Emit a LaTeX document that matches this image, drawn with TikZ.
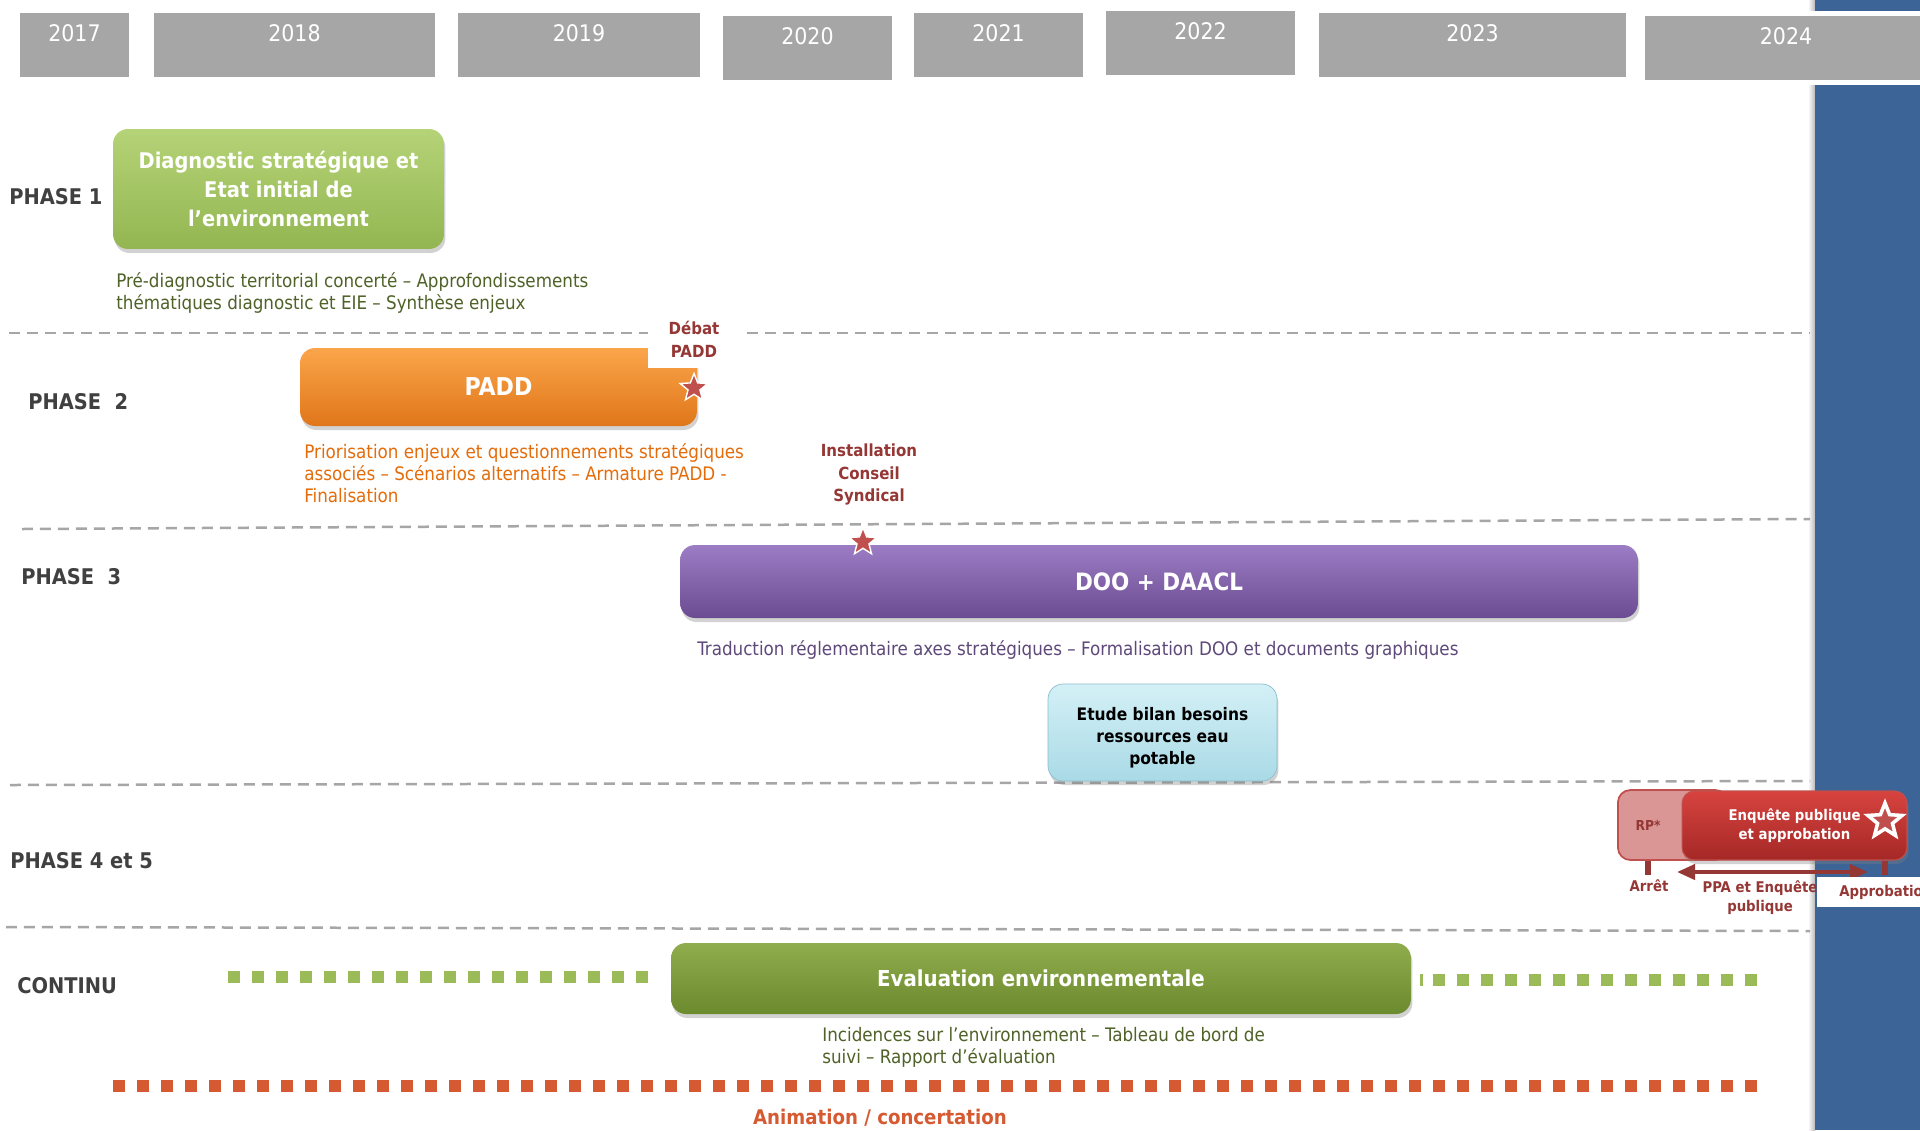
\documentclass[tikz,border=0pt]{standalone}
\usepackage{fontspec}
\setmainfont{DejaVu Sans Condensed}
\usetikzlibrary{shapes.geometric,shadows,arrows.meta}

\definecolor{yeargray}{HTML}{A6A6A6}
\definecolor{bluebar}{HTML}{3C6497}
\definecolor{phasegray}{HTML}{404040}
\definecolor{darkred}{HTML}{953735}
\definecolor{starred}{HTML}{C0504D}
\definecolor{diagtop}{HTML}{B5D377}
\definecolor{diagbot}{HTML}{93B651}
\definecolor{paddtop}{HTML}{FBA54A}
\definecolor{paddbot}{HTML}{E0761A}
\definecolor{dootop}{HTML}{9C7CC4}
\definecolor{doobot}{HTML}{6B4C92}
\definecolor{etudetop}{HTML}{D4F0F6}
\definecolor{etudebot}{HTML}{A9DAE6}
\definecolor{etudeline}{HTML}{8CBFCC}
\definecolor{evaltop}{HTML}{8FAD4C}
\definecolor{evalbot}{HTML}{6C8A2E}
\definecolor{enqtop}{HTML}{D7433F}
\definecolor{enqbot}{HTML}{A52826}
\definecolor{rpfill}{HTML}{D99694}
\definecolor{diagtext}{HTML}{4F6228}
\definecolor{paddtext}{HTML}{E46C0A}
\definecolor{dootext}{HTML}{5F497A}
\definecolor{greendot}{HTML}{9BBB59}
\definecolor{reddot}{HTML}{D55A31}

\tikzset{
  yearbox/.style={fill=yeargray, draw=white, line width=0.1cm, text=white,
    anchor=north, inner xsep=0pt, inner ysep=0pt, text height=0.62cm, text depth=0.76cm,
    font=\fontsize{13}{15}\selectfont,
    drop shadow={shadow xshift=0cm, shadow yshift=-0.06cm, opacity=0.35}},
  phase/.style={anchor=west, inner sep=0pt, text=phasegray,
    font=\fontsize{12.3}{14}\selectfont\bfseries},
  task/.style={rounded corners=0.3cm, align=center, text=white,
    font=\fontsize{12.3}{16.5}\selectfont\bfseries,
    drop shadow={shadow xshift=0.03cm, shadow yshift=-0.08cm, opacity=0.35}},
  desc/.style={anchor=west, align=left, inner sep=0pt,
    font=\fontsize{10.6}{12.5}\selectfont},
  milestone/.style={align=center, inner sep=0pt, text=darkred,
    font=\fontsize{9.5}{13}\selectfont\bfseries},
  jalon/.style={star, star points=5, star point ratio=2.3, minimum size=0.58cm,
    inner sep=0pt, fill=starred, draw=white, line width=0.8pt},
  sepline/.style={draw=yeargray, line width=0.05cm, dash pattern=on 0.22cm off 0.14cm},
  tickmark/.style={draw=darkred, line width=0.12cm},
  ppaarrow/.style={draw=darkred, line width=0.08cm,
    {Triangle[length=0.36cm,width=0.3cm]}-{Triangle[length=0.36cm,width=0.3cm]}}
}

\begin{document}
\begin{tikzpicture}[x=0.02cm, y=-0.02cm]
\useasboundingbox (0,0) rectangle (1920,1130);
\clip (0,0) rectangle (1920,1130);
\fill[white] (0,0) rectangle (1920,1130);

% bande bleue a droite
\shade[left color=white, right color=gray!55] (1808,0) rectangle (1815,1130);
\fill[bluebar] (1815,0) rectangle (1920,1130);

% annees
\foreach \yr/\cx/\cy/\w in {2017/74.5/8/2.3, 2018/294.5/8/5.74, 2019/579/8/4.96,
  2020/807.5/11/3.5, 2021/998.5/8/3.5, 2022/1200.5/6/3.9, 2023/1472.5/8/6.26,
  2024/1786/11/5.76}
  \node[yearbox, minimum width=\w cm] (y\yr) at (\cx,\cy) {\yr};

% separations
\draw[sepline] (9,333) -- (1810,333);
\draw[sepline] (22,529) -- (1810,519);
\draw[sepline] (10,785) -- (1810,781);
\draw[sepline] (6,927) -- (1810,931);

% phases
\node[phase] (ph1) at (9,197) {PHASE 1};
\node[phase] (ph2) at (28,402) {PHASE~~2};
\node[phase] (ph3) at (21,577) {PHASE~~3};
\node[phase] (ph45) at (10,861) {PHASE 4 et 5};
\node[phase] (cont) at (17,986) {CONTINU};

% phase 1
\node[task, top color=diagtop, bottom color=diagbot, minimum width=6.62cm,
  minimum height=2.4cm] (diag) at (278.5,189)
  {Diagnostic stratégique et\\Etat initial de\\l’environnement};
\node[desc, text=diagtext] (diagtxt) at (116,292.5)
  {Pré-diagnostic territorial concerté – Approfondissements\\thématiques diagnostic et EIE – Synthèse enjeux};

% phase 2
\node[task, top color=paddtop, bottom color=paddbot, minimum width=7.94cm,
  minimum height=1.56cm, font=\fontsize{14}{16}\selectfont\bfseries] (padd) at (498.5,387) {PADD};
\node[milestone, fill=white, minimum width=1.86cm, minimum height=1.14cm] (debat) at (694,339) {Débat\\PADD};
\node[jalon] (stardebat) at (694,388) {};
\node[desc, text=paddtext] (paddtxt) at (304,473)
  {Priorisation enjeux et questionnements stratégiques\\associés – Scénarios alternatifs – Armature PADD -\\Finalisation};
\node[milestone] (install) at (869,474.5) {Installation\\Conseil\\Syndical};

% phase 3
\node[task, top color=dootop, bottom color=doobot, minimum width=19.16cm,
  minimum height=1.46cm, font=\fontsize{13.6}{16}\selectfont\bfseries] (doo) at (1159,581.5) {DOO + DAACL};
\node[jalon] (starinst) at (863,542) {};
\node[desc, text=dootext] (dootxt) at (697,649.5)
  {Traduction réglementaire axes stratégiques – Formalisation DOO et documents graphiques};
\node[task, top color=etudetop, bottom color=etudebot, draw=etudeline, text=black,
  font=\fontsize{9.8}{12.5}\selectfont\bfseries, minimum width=4.58cm,
  minimum height=1.94cm] (etude) at (1162.5,732.5) {\rule{0pt}{13pt}Etude bilan besoins\\ressources eau\\potable};

% phases 4 et 5
\node[rounded corners=0.25cm, fill=rpfill, draw=starred, line width=1pt, minimum width=2.2cm,
  minimum height=1.4cm, anchor=west] (rp) at (1617,825) {};
\node[text=darkred, font=\fontsize{7.8}{9}\selectfont\bfseries] (rptxt) at (1648,825) {RP*};
\node[task, top color=enqtop, bottom color=enqbot, draw=starred, line width=0.6pt,
  rounded corners=0.25cm, font=\fontsize{8.4}{10.5}\selectfont\bfseries, minimum width=4.5cm,
  minimum height=1.38cm] (enq) at (1794.5,825.5) {Enquête publique\\et approbation};
\node[jalon, line width=2pt, minimum size=0.72cm] (starenq) at (1885,821) {};
\draw[tickmark] (rptxt |- rp.south) -- ++(0,14);
\draw[tickmark] (starenq |- enq.south) -- ++(0,14);
\coordinate (ppaL) at (1677,872);
\coordinate (ppaR) at (1868,872);
\draw[ppaarrow] (ppaL) -- (ppaR);
\node[milestone, font=\fontsize{8.4}{11}\selectfont\bfseries] (arret) at (1649,886) {Arrêt};
\node[milestone, font=\fontsize{8.4}{11}\selectfont\bfseries] (ppa) at (1760,897.5) {PPA et Enquête\\publique};
\node[milestone, font=\fontsize{8.4}{11}\selectfont\bfseries, fill=white, anchor=west,
  inner xsep=0.44cm, minimum height=0.6cm] (approb) at (1817,892) {Approbation};

% continu
\foreach \i in {0,...,17}
  \fill[greendot] ({228+24*\i},971) rectangle ++(12,12);
\fill[greendot] (1420,974) rectangle (1423,986);
\foreach \i in {0,...,13}
  \fill[greendot] ({1433+24*\i},974) rectangle ++(12,12);
\node[task, top color=evaltop, bottom color=evalbot, minimum width=14.8cm,
  minimum height=1.42cm, font=\fontsize{12.5}{16}\selectfont\bfseries] (evalenv) at (1041,978.5) {Evaluation environnementale};
\node[desc, text=diagtext] (evaltxt) at (822,1047)
  {Incidences sur l’environnement – Tableau de bord de\\suivi – Rapport d’évaluation};
\foreach \i in {0,...,68}
  \fill[reddot] ({113+24*\i},1080) rectangle ++(12,12);
\node[text=reddot, font=\fontsize{11.5}{13}\selectfont\bfseries] (anim) at (880,1118) {Animation / concertation};
\end{tikzpicture}
\end{document}
